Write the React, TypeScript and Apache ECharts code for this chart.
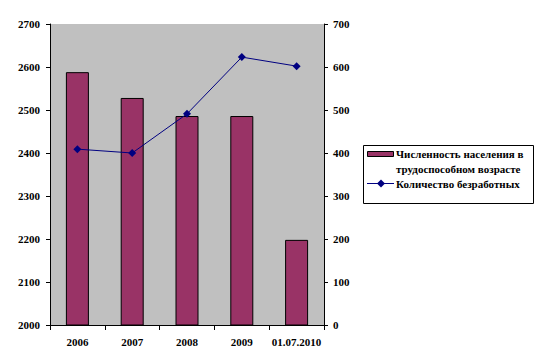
import React, { useEffect, useRef } from "react";
import * as echarts from "echarts";

const categories = ["2006", "2007", "2008", "2009", "01.07.2010"];
const population = [2588, 2528, 2486, 2486, 2198];
const unemployed = [409, 400, 491, 623, 602];
const legendNames = ["Численность населения в\nтрудоспособном возрасте", "Количество безработных"];

const FONT = "Liberation Serif";

export default function App() {
  const ref = useRef<HTMLDivElement>(null);
  useEffect(() => {
    if (!ref.current) return;
    const chart = echarts.init(ref.current, null, { renderer: "svg" });
    const axisLabel = { color: "#000", fontFamily: FONT, fontWeight: "bold", fontSize: 11 };
    chart.setOption({
      animation: false,
      backgroundColor: "#fff",
      grid: {
        left: 50,
        right: 221,
        top: 24,
        bottom: 39,
        show: true,
        backgroundColor: "#C0C0C0",
        borderWidth: 0,
      },
      xAxis: {
        type: "category",
        data: categories,
        boundaryGap: true,
        axisLine: { show: true, lineStyle: { color: "#000", width: 1 } },
        axisTick: { show: true, inside: false, length: 5, lineStyle: { color: "#000" } },
        axisLabel: { ...axisLabel, margin: 11, interval: 0 },
        splitLine: { show: false },
      },
      yAxis: [
        {
          type: "value",
          min: 2000,
          max: 2700,
          interval: 100,
          position: "left",
          axisLine: { show: true, lineStyle: { color: "#000", width: 1 } },
          axisTick: { show: true, length: 4, lineStyle: { color: "#000" } },
          axisLabel: { ...axisLabel, margin: 10, formatter: (v: number) => String(v) },
          splitLine: { show: false },
        },
        {
          type: "value",
          min: 0,
          max: 700,
          interval: 100,
          position: "right",
          axisLine: { show: true, lineStyle: { color: "#000", width: 1 } },
          axisTick: { show: true, length: 4, lineStyle: { color: "#000" } },
          axisLabel: { ...axisLabel, margin: 9, formatter: (v: number) => String(v) },
          splitLine: { show: false },
        },
      ],
      series: [
        {
          name: legendNames[0],
          type: "bar",
          yAxisIndex: 0,
          data: population,
          barWidth: 23,
          itemStyle: { color: "#993366", borderColor: "#000", borderWidth: 1 },
        },
        {
          name: legendNames[1],
          type: "line",
          yAxisIndex: 1,
          data: unemployed,
          symbol: "diamond",
          symbolSize: 8,
          lineStyle: { color: "#000080", width: 1 },
          itemStyle: { color: "#000080" },
        },
      ],
      graphic: [
        {
          type: "rect",
          shape: { x: 363.5, y: 145.5, width: 170, height: 58 },
          style: { fill: "#fff", stroke: "#000", lineWidth: 1 },
        },
        {
          type: "rect",
          shape: { x: 367.5, y: 151.5, width: 26, height: 5 },
          style: { fill: "#993366", stroke: "#000", lineWidth: 1 },
        },
        {
          type: "line",
          shape: { x1: 367, y1: 183.5, x2: 394, y2: 183.5 },
          style: { stroke: "#000080", lineWidth: 1 },
        },
        {
          type: "polygon",
          shape: { points: [[381, 179.5], [385, 183.5], [381, 187.5], [377, 183.5]] },
          style: { fill: "#000080" },
        },
        {
          type: "text",
          x: 396,
          y: 153.5,
          style: { text: "Численность населения в", fill: "#000", font: `bold 11px ${FONT}`, verticalAlign: "middle" },
        },
        {
          type: "text",
          x: 396,
          y: 168.5,
          style: { text: "трудоспособном возрасте", fill: "#000", font: `bold 11px ${FONT}`, verticalAlign: "middle" },
        },
        {
          type: "text",
          x: 396,
          y: 183.5,
          style: { text: "Количество безработных", fill: "#000", font: `bold 11px ${FONT}`, verticalAlign: "middle" },
        },
      ],
    });
    return () => chart.dispose();
  }, []);
  return <div ref={ref} style={{ width: 545, height: 364, position: "absolute", left: 0, top: 0 }} />;
}
